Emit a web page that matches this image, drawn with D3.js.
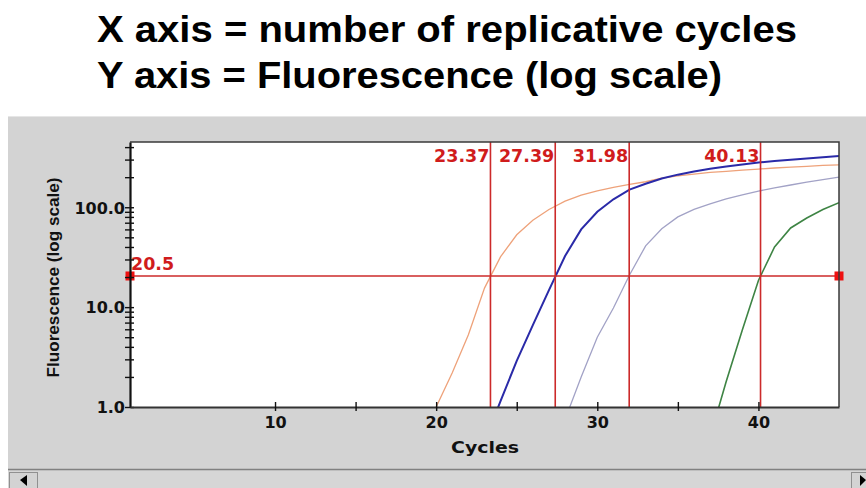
<!DOCTYPE html>
<html>
<head>
<meta charset="utf-8">
<script src="https://cdn.jsdelivr.net/npm/d3@7"></script>
<style>
  html, body { margin: 0; padding: 0; background: #ffffff; }
  svg { display: block; }
</style>
</head>
<body>
<svg id="chart" width="866" height="488"></svg>
<script>
// ---- Data ----
const titleLines = ["X axis = number of replicative cycles", "Y axis = Fluorescence (log scale)"];
const cycles = d3.range(1, 46);
const nul = n => Array(n).fill(null);
// values per cycle 1..45 (null = below the plotted range, not recorded)
const orangeValues   = [...nul(18), 0.45, 1.0, 2.2, 5.3, 15.5, 32, 53, 74, 95, 115, 132, 146, 158, 169, 180, 196, 206, 215, 223, 229, 235, 241, 247, 252, 257, 262, 266];
const blueValues     = [...nul(22), 0.45, 1.15, 2.9, 6.6, 14.8, 32.5, 60, 90, 120, 150, 172, 194, 212, 228, 243, 256, 268, 280, 290, 299, 308, 317, 325];
const lavenderValues = [...nul(27), 0.75, 2.0, 5.0, 9.8, 21, 41, 61, 80, 95, 108, 121, 133, 145, 156, 167, 178, 189, 200];
const greenValues    = [...nul(36), 0.5, 1.8, 5.9, 18.5, 40, 62, 78, 95, 111];
const seriesNames  = ["orange", "blue", "lavender", "green"];
const seriesColors = ["#eea27a", "#2a2aa8", "#a2a2c6", "#3e8444"];
const seriesWidths = [1.3, 2, 1.3, 1.6];
const thresholdValue = 20.5;
const ctValues = [23.37, 27.39, 31.98, 40.13];
const xMajorTicks = [10, 20, 30, 40];
const xMinorTicks = [15, 25, 35];
const yMajorTicks = [1, 10, 100];
const yMinorTicks = [2,3,4,5,6,7,8,9,20,30,40,50,60,70,80,90,200,300,400];

// ---- Layout ----
const svg = d3.select("#chart");
const L = 130, R = 839, T = 142, B = 407;
const x = d3.scaleLinear().domain([1, 45]).range([L, R]);
const y = d3.scaleLog().domain([1, 450]).range([B, T]);

// titles
svg.append("text").attr("x", 97).attr("y", 42).text(titleLines[0])
  .attr("font-family", "Liberation Sans, Arial, sans-serif").attr("font-weight", "bold")
  .attr("font-size", 37).attr("textLength", 700).attr("lengthAdjust", "spacingAndGlyphs").attr("fill", "#000");
svg.append("text").attr("x", 97).attr("y", 88).text(titleLines[1])
  .attr("font-family", "Liberation Sans, Arial, sans-serif").attr("font-weight", "bold")
  .attr("font-size", 37).attr("textLength", 625).attr("lengthAdjust", "spacingAndGlyphs").attr("fill", "#000");

// grey panel
svg.append("rect").attr("x", 8).attr("y", 116).attr("width", 858).attr("height", 372).attr("fill", "#d3d3d3");
svg.append("line").attr("x1", 8).attr("x2", 866).attr("y1", 116.5).attr("y2", 116.5).attr("stroke", "#e6e6e6");
// scrollbar
svg.append("line").attr("x1", 8).attr("x2", 866).attr("y1", 469.5).attr("y2", 469.5).attr("stroke", "#808080").attr("stroke-width", 1.5);
svg.append("rect").attr("x", 8).attr("y", 471).attr("width", 858).attr("height", 17).attr("fill", "#d6d6d6");
svg.append("rect").attr("x", 9.5).attr("y", 472.5).attr("width", 28).attr("height", 16).attr("fill", "#d3d3d3").attr("stroke", "#909090");
svg.append("path").attr("d", "M20,480 L27,475 L27,486 Z").attr("fill", "#000");
svg.append("rect").attr("x", 851.5).attr("y", 472.5).attr("width", 20).attr("height", 16).attr("fill", "#d3d3d3").attr("stroke", "#909090");
svg.append("path").attr("d", "M866,480 L860,475 L860,486 Z").attr("fill", "#000");

// plot background
svg.append("rect").attr("x", L).attr("y", T).attr("width", R - L).attr("height", B - T).attr("fill", "#fff");

// clip
svg.append("defs").append("clipPath").attr("id", "clip")
  .append("rect").attr("x", L).attr("y", T).attr("width", R - L).attr("height", B - T);

// curves
const allSeries = [orangeValues, blueValues, lavenderValues, greenValues];
const line = d3.line()
  .defined(d => d[1] != null)
  .x(d => x(d[0]))
  .y(d => y(d[1]));
const curveG = svg.append("g").attr("clip-path", "url(#clip)");
allSeries.forEach((vals, i) => {
  curveG.append("path")
    .datum(cycles.map((c, j) => [c, vals[j]]))
    .attr("d", line)
    .attr("fill", "none")
    .attr("stroke", seriesColors[i])
    .attr("stroke-width", seriesWidths[i])
    .attr("class", seriesNames[i]);
});

// threshold & Ct lines
const red = "#cc2a2a";
svg.append("line").attr("x1", L).attr("x2", R).attr("y1", y(thresholdValue)).attr("y2", y(thresholdValue))
  .attr("stroke", red).attr("stroke-width", 1.6);
ctValues.forEach(v => {
  svg.append("line").attr("x1", x(v)).attr("x2", x(v)).attr("y1", T).attr("y2", B)
    .attr("stroke", red).attr("stroke-width", 1.6);
  svg.append("text").attr("x", x(v) - 1).attr("y", 162).attr("text-anchor", "end")
    .attr("font-family", "DejaVu Sans, Verdana, sans-serif").attr("font-weight", "bold")
    .attr("font-size", 17.5).attr("fill", "#d01c1c").text(v.toFixed(2));
});
svg.append("text").attr("x", L + 1).attr("y", 270).attr("font-family", "DejaVu Sans, Verdana, sans-serif")
  .attr("font-weight", "bold").attr("font-size", 17.5).attr("fill", "#d01c1c").text(thresholdValue.toFixed(1));
[L, R].forEach(px => {
  svg.append("rect").attr("x", px - 4.5).attr("y", y(thresholdValue) - 4.5).attr("width", 9).attr("height", 9).attr("fill", "#ee1111");
});

// frame (top/right)
svg.append("path").attr("d", `M${L},${T}H${R}V${B}`).attr("fill", "none").attr("stroke", "#3a3a3a").attr("stroke-width", 1.5);

// Y axis
const yAxis = d3.axisLeft(y)
  .tickValues(yMajorTicks.concat(yMinorTicks))
  .tickFormat(d => yMajorTicks.includes(d) ? d.toFixed(1) : "")
  .tickSizeOuter(0);
const yg = svg.append("g").attr("transform", `translate(${L},0)`).call(yAxis);
yg.select(".domain").attr("stroke", "#111").attr("stroke-width", 2.2);
yg.selectAll(".tick line").attr("x1", 4).attr("x2", -5).attr("stroke", "#111").attr("stroke-width", 1.4);
yg.selectAll(".tick text").attr("x", -5).attr("dy", "0.36em")
  .attr("font-family", "DejaVu Sans, Verdana, sans-serif").attr("font-weight", "bold").attr("font-size", 16).attr("fill", "#111");

// X axis
const xAxis = d3.axisBottom(x)
  .tickValues(xMajorTicks.concat(xMinorTicks))
  .tickFormat(d => xMajorTicks.includes(d) ? d : "")
  .tickSizeOuter(0);
const xg = svg.append("g").attr("transform", `translate(0,${B})`).call(xAxis);
xg.select(".domain").attr("stroke", "#333").attr("stroke-width", 2.2);
xg.selectAll(".tick line").attr("y1", -5).attr("y2", 4).attr("stroke", "#111").attr("stroke-width", 1.4);
xg.selectAll(".tick text").attr("y", 10).attr("dy", "0.71em")
  .attr("font-family", "DejaVu Sans, Verdana, sans-serif").attr("font-weight", "bold").attr("font-size", 16).attr("fill", "#111");

// axis titles
svg.append("text").attr("x", 485).attr("y", 453).attr("text-anchor", "middle")
  .attr("font-family", "DejaVu Sans, Verdana, sans-serif").attr("font-weight", "bold").attr("font-size", 16.5)
  .attr("textLength", 68).attr("lengthAdjust", "spacingAndGlyphs").attr("fill", "#111").text("Cycles");
svg.append("text").attr("transform", "translate(59,277.5) rotate(-90)").attr("text-anchor", "middle")
  .attr("font-family", "Liberation Sans, Arial, sans-serif").attr("font-weight", "bold").attr("font-size", 17)
  .attr("textLength", 200).attr("lengthAdjust", "spacingAndGlyphs").attr("fill", "#111").text("Fluorescence (log scale)");
</script>
</body>
</html>
